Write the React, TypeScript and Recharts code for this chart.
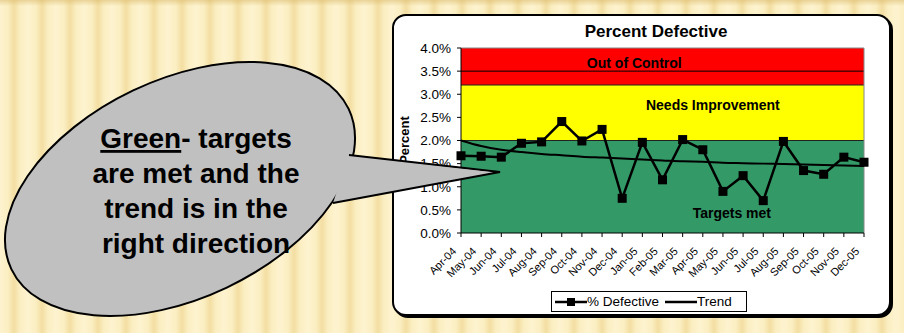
import React from 'react';
import {
  ComposedChart, Line, XAxis, YAxis, ReferenceArea, ReferenceLine, Legend,
} from 'recharts';

const FONT = '"Liberation Sans", Arial, Helvetica, sans-serif';

const months = [
  'Apr-04', 'May-04', 'Jun-04', 'Jul-04', 'Aug-04', 'Sep-04', 'Oct-04', 'Nov-04', 'Dec-04',
  'Jan-05', 'Feb-05', 'Mar-05', 'Apr-05', 'May-05', 'Jun-05', 'Jul-05', 'Aug-05', 'Sep-05',
  'Oct-05', 'Nov-05', 'Dec-05',
];
const defective = [
  1.67, 1.66, 1.64, 1.94, 1.97, 2.41, 1.99, 2.24, 0.75, 1.96, 1.15, 2.02, 1.80, 0.90, 1.24,
  0.70, 1.98, 1.35, 1.27, 1.64, 1.53,
];
const trend = [
  2.00, 1.88, 1.80, 1.75, 1.71, 1.68, 1.65, 1.63, 1.61, 1.59, 1.57, 1.55, 1.54, 1.52, 1.51,
  1.50, 1.49, 1.48, 1.47, 1.46, 1.45,
];
const yTicks = [0, 0.5, 1, 1.5, 2, 2.5, 3, 3.5, 4];

const bands = [
  { from: 0, to: 2, color: '#339966', label: 'Targets met', fx: 0.672, dy: 77 },
  { from: 2, to: 3.2, color: '#FFFF00', label: 'Needs Improvement', fx: 0.625, dy: 25 },
  { from: 3.2, to: 4, color: '#FF0000', label: 'Out of Control', fx: 0.43, dy: 20 },
];

const data = months.map((m, i) => ({ month: m, defective: defective[i], trend: trend[i] }));

const SquareDot = (props: any) => {
  const { cx, cy, index } = props;
  if (cx == null || cy == null) return null;
  return <rect key={`d${index}`} x={cx - 4.5} y={cy - 4.5} width={9} height={9} fill="#000" />;
};

const XTick = (props: any) => {
  const { x, y, payload } = props;
  const ax = x - 4;
  const ay = y + 13;
  return (
    <text
      x={ax}
      y={ay}
      transform={`rotate(-45, ${ax}, ${ay})`}
      textAnchor="end"
      fontSize={11}
      fontFamily={FONT}
      fill="#000"
    >
      {payload.value}
    </text>
  );
};

const renderLegend = (props: any) => {
  const { payload } = props;
  return (
    <div
      style={{
        border: '1px solid #000', background: '#fff', display: 'flex', alignItems: 'center',
        height: 19, padding: '0 3px', fontSize: 13.5, fontFamily: FONT, color: '#000',
        boxSizing: 'content-box', width: 188,
      }}
    >
      {(payload || []).map((p: any, i: number) => (
        <div key={i} style={{ display: 'flex', alignItems: 'center', marginRight: i === 0 ? 6 : 0 }}>
          <svg width={32} height={12}>
            <line x1={0} y1={6} x2={32} y2={6} stroke="#000" strokeWidth={2.5} />
            {p.dataKey === 'defective' && <rect x={12} y={2} width={8} height={8} fill="#000" />}
          </svg>
          <span>{p.value}</span>
        </div>
      ))}
    </div>
  );
};

export default function App() {
  return (
    <div
      style={{
        position: 'absolute', left: 0, top: 0, width: 904, height: 333, overflow: 'hidden',
        background:
          'repeating-linear-gradient(90deg, #fdf3cf 0px, #fbeec2 8px, #f3dea2 14px, #fbeec2 20px, #fdf3cf 28px)',
        fontFamily: FONT,
      }}
    >
      <div
        style={{
          position: 'absolute', left: 0, top: 0, width: 904, height: 6,
          background: 'linear-gradient(180deg, rgba(215,180,100,0.5), rgba(215,180,100,0))',
        }}
      />
      <div
        style={{
          position: 'absolute', left: 392, top: 14, width: 499, height: 302, boxSizing: 'border-box',
          border: '2px solid #000', borderRadius: 14, background: '#fff', boxShadow: '2px 2px 0 #000',
        }}
      />
      <div style={{ position: 'absolute', left: 392, top: 14 }}>
        <ComposedChart
          width={501}
          height={302}
          data={data}
          margin={{ top: 34, right: 29, left: 0, bottom: 0 }}
        >
          {bands.map((b) => (
            <ReferenceArea
              key={b.label}
              y1={b.from}
              y2={b.to}
              fill={b.color}
              fillOpacity={1}
              stroke="none"
              ifOverflow="visible"
              label={(lp: any) => {
                const vb = lp.viewBox || {};
                return (
                  <text
                    x={vb.x + vb.width * b.fx}
                    y={vb.y + b.dy}
                    textAnchor="middle"
                    fontSize={14}
                    fontWeight="bold"
                    fontFamily={FONT}
                    fill="#000"
                  >
                    {b.label}
                  </text>
                );
              }}
            />
          ))}
          <ReferenceLine y={3.5} stroke="#000" strokeWidth={1} />
          <ReferenceLine y={3.2} stroke="#222" strokeWidth={1} />
          <ReferenceLine y={2} stroke="#222" strokeWidth={1} />
          <ReferenceLine y={4} stroke="#888" strokeWidth={1} />
          <ReferenceLine x="Dec-05" stroke="#888" strokeWidth={1} />
          <XAxis
            dataKey="month"
            scale="point"
            padding={{ left: 0, right: 0 }}
            interval={0}
            height={83}
            tickSize={4}
            tickMargin={2}
            stroke="#000"
            tickLine={{ stroke: '#000' }}
            tick={<XTick />}
          />
          <YAxis
            domain={[0, 4]}
            ticks={yTicks}
            width={69}
            tickSize={4}
            tickMargin={6}
            stroke="#000"
            tickLine={{ stroke: '#000' }}
            tick={{ fill: '#000', fontSize: 13.5, fontFamily: FONT }}
            tickFormatter={(v: number) => `${v.toFixed(1)}%`}
            allowDataOverflow
          />
          <Line
            dataKey="trend"
            name="Trend"
            type="monotone"
            stroke="#000"
            strokeWidth={2}
            dot={false}
            activeDot={false}
            isAnimationActive={false}
            legendType="line"
          />
          <Line
            dataKey="defective"
            name="% Defective"
            type="linear"
            stroke="#000"
            strokeWidth={2.5}
            dot={<SquareDot />}
            activeDot={false}
            isAnimationActive={false}
          />
          <Legend
            verticalAlign="middle"
            align="center"
            layout="horizontal"
            content={renderLegend}
            wrapperStyle={{ top: 277, left: 159, width: 196, height: 21 }}
          />
        </ComposedChart>
      </div>
      <svg
        width={904}
        height={333}
        style={{ position: 'absolute', left: 0, top: 0, pointerEvents: 'none' }}
      >
        <text x={656} y={37} textAnchor="middle" fontSize={17} fontWeight="bold" fontFamily={FONT} fill="#000">
          Percent Defective
        </text>
        <text
          x={409}
          y={140}
          transform="rotate(-90, 409, 140)"
          textAnchor="middle"
          fontSize={13}
          fontWeight="bold"
          fontFamily={FONT}
          fill="#000"
        >
          Percent
        </text>
        <g>
          <ellipse
            cx={180}
            cy={189}
            rx={186.7}
            ry={109.1}
            transform="rotate(-25.4, 180, 189)"
            fill="#C0C0C0"
            stroke="#000"
            strokeWidth={2}
          />
          <path d="M349,155 L500,172 L333,203" fill="#C0C0C0" stroke="#000" strokeWidth={2} strokeLinejoin="miter" />
          <path d="M347,157 L490,172 L335,200 Z" fill="#C0C0C0" stroke="none" />
        </g>
        <g fontFamily={FONT} fontWeight="bold" fontSize={28} fill="#000" textAnchor="middle">
          <text x={196} y={148}>
            <tspan textDecoration="underline">Green</tspan>
            <tspan>- targets</tspan>
          </text>
          <text x={196} y={183}>are met and the</text>
          <text x={196} y={218}>trend is in the</text>
          <text x={196} y={253}>right direction</text>
        </g>
      </svg>
    </div>
  );
}
